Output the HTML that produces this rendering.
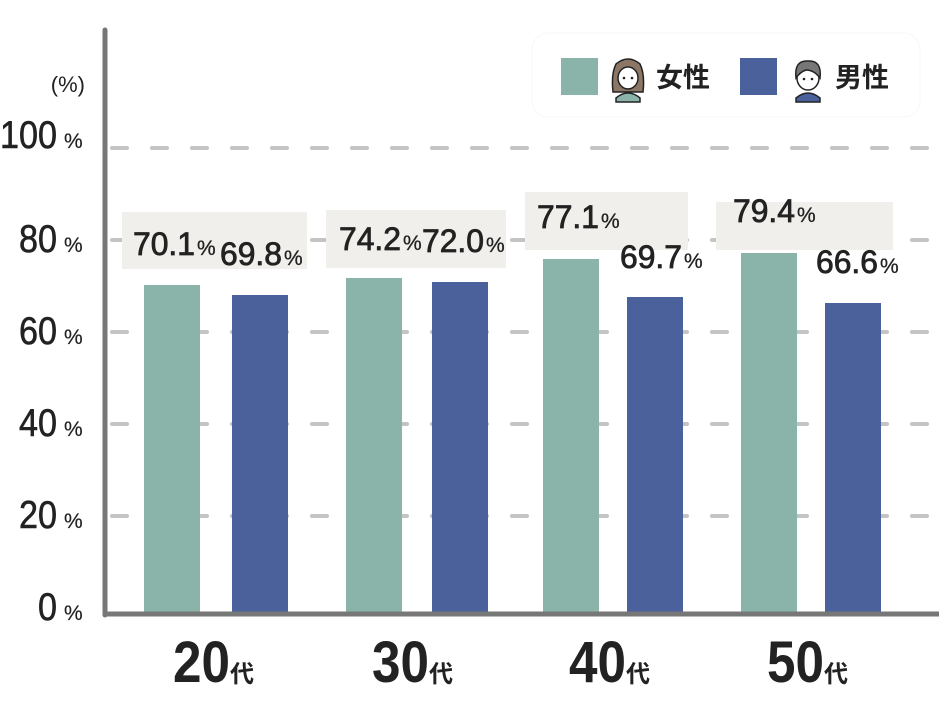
<!DOCTYPE html>
<html><head><meta charset="utf-8"><style>
body{margin:0;background:#fff}
svg{display:block}
text{font-family:"Liberation Sans","Noto Sans CJK JP",sans-serif;fill:#222}
</style></head><body>
<svg width="939" height="703" viewBox="0 0 939 703">
<g stroke="#c4c4c4" stroke-width="4" stroke-dasharray="15 25" stroke-linecap="round">
<line x1="112" y1="148" x2="939" y2="148"/>
<line x1="112" y1="240" x2="939" y2="240"/>
<line x1="112" y1="332" x2="939" y2="332"/>
<line x1="112" y1="424" x2="939" y2="424"/>
<line x1="112" y1="516" x2="939" y2="516"/>
</g>
<!-- legend -->
<rect x="532" y="33" width="388" height="84" rx="16" fill="#fff" stroke="#f7f7f7" stroke-width="1"/>
<rect x="561" y="58" width="37" height="37" fill="#8ab4aa"/>
<g transform="translate(628,76)">
<path d="M-15 16 Q-17 -2 -12 -12 Q0 -22 12 -12 Q17 -2 15 16 Z" fill="#8c7766" stroke="#222" stroke-width="1.5"/>
<path d="M-12 22 Q0 12 12 22 L12 26 L-12 26Z" fill="#8ab4aa" stroke="#222" stroke-width="1.5"/>
<ellipse cx="0" cy="2" rx="10" ry="11" fill="#fff" stroke="#222" stroke-width="1.5"/>
<circle cx="-4" cy="2" r="1.3" fill="#222"/><circle cx="4" cy="2" r="1.3" fill="#222"/>
</g>
<text x="656" y="87" font-size="27" font-weight="bold">女性</text>
<rect x="740" y="58" width="37" height="37" fill="#4a619b"/>
<g transform="translate(808,76)">
<path d="M-12 22 Q0 12 12 22 L12 26 L-12 26Z" fill="#4a619b" stroke="#222" stroke-width="1.5"/>
<ellipse cx="0" cy="2" rx="11" ry="12" fill="#fff" stroke="#222" stroke-width="1.5"/>
<path d="M-12 2 Q-14 -16 0 -15 Q14 -16 12 2 Q6 -6 -2 -6 Q-8 -4 -12 2Z" fill="#777" stroke="#222" stroke-width="1.5"/>
<circle cx="-4" cy="3" r="1.3" fill="#222"/><circle cx="4" cy="3" r="1.3" fill="#222"/>
</g>
<text x="835" y="87" font-size="27" font-weight="bold">男性</text>
<!-- label boxes -->
<rect x="122" y="212" width="185" height="57" fill="#f1efeb"/>
<rect x="326" y="210" width="180" height="58" fill="#f1efeb"/>
<rect x="525" y="192" width="163" height="58" fill="#f1efeb"/>
<rect x="716" y="202" width="177" height="48" fill="#f1efeb"/>
<!-- bars -->
<g fill="#8ab4aa">
<rect x="144" y="285" width="56" height="328"/>
<rect x="346" y="278" width="56" height="335"/>
<rect x="543" y="259" width="56" height="354"/>
<rect x="741" y="253" width="56" height="360"/>
</g>
<g fill="#4a619b">
<rect x="232" y="295" width="56" height="318"/>
<rect x="432" y="282" width="56" height="331"/>
<rect x="627" y="297" width="56" height="316"/>
<rect x="825" y="303" width="56" height="310"/>
</g>
<!-- value labels -->
<g font-size="32" stroke="#222" stroke-width="0.8">
<text x="133" y="255"><tspan textLength="62" lengthAdjust="spacingAndGlyphs">70.1</tspan><tspan font-size="21" stroke-width="0.3" dx="2">%</tspan></text>
<text x="220" y="265"><tspan textLength="62" lengthAdjust="spacingAndGlyphs">69.8</tspan><tspan font-size="21" stroke-width="0.3" dx="2">%</tspan></text>
<text x="339" y="250"><tspan textLength="62" lengthAdjust="spacingAndGlyphs">74.2</tspan><tspan font-size="21" stroke-width="0.3" dx="2">%</tspan></text>
<text x="422" y="252"><tspan textLength="62" lengthAdjust="spacingAndGlyphs">72.0</tspan><tspan font-size="21" stroke-width="0.3" dx="2">%</tspan></text>
<text x="537" y="228"><tspan textLength="62" lengthAdjust="spacingAndGlyphs">77.1</tspan><tspan font-size="21" stroke-width="0.3" dx="2">%</tspan></text>
<text x="620" y="268"><tspan textLength="62" lengthAdjust="spacingAndGlyphs">69.7</tspan><tspan font-size="21" stroke-width="0.3" dx="2">%</tspan></text>
<text x="733" y="222"><tspan textLength="62" lengthAdjust="spacingAndGlyphs">79.4</tspan><tspan font-size="21" stroke-width="0.3" dx="2">%</tspan></text>
<text x="816" y="273"><tspan textLength="62" lengthAdjust="spacingAndGlyphs">66.6</tspan><tspan font-size="21" stroke-width="0.3" dx="2">%</tspan></text>
</g>
<!-- axes -->
<line x1="105" y1="30" x2="105" y2="615" stroke="#777" stroke-width="5" stroke-linecap="round"/>
<line x1="105" y1="614" x2="939" y2="614" stroke="#777" stroke-width="5" stroke-linecap="round"/>
<!-- y labels -->
<text x="85" y="92" font-size="22" text-anchor="end">(%)</text>
<g font-size="39" stroke="#222" stroke-width="0.6">
<text x="0" y="148"><tspan textLength="57" lengthAdjust="spacingAndGlyphs">100</tspan><tspan font-size="21" stroke-width="0.2" dx="7">%</tspan></text>
<text x="19" y="252"><tspan textLength="38" lengthAdjust="spacingAndGlyphs">80</tspan><tspan font-size="21" stroke-width="0.2" dx="7">%</tspan></text>
<text x="19" y="344"><tspan textLength="38" lengthAdjust="spacingAndGlyphs">60</tspan><tspan font-size="21" stroke-width="0.2" dx="7">%</tspan></text>
<text x="19" y="436"><tspan textLength="38" lengthAdjust="spacingAndGlyphs">40</tspan><tspan font-size="21" stroke-width="0.2" dx="7">%</tspan></text>
<text x="19" y="528"><tspan textLength="38" lengthAdjust="spacingAndGlyphs">20</tspan><tspan font-size="21" stroke-width="0.2" dx="7">%</tspan></text>
<text x="38" y="620"><tspan textLength="19" lengthAdjust="spacingAndGlyphs">0</tspan><tspan font-size="21" stroke-width="0.2" dx="7">%</tspan></text>
</g>
<!-- x labels -->
<g font-size="58" font-weight="bold">
<text x="173" y="682"><tspan textLength="57" lengthAdjust="spacingAndGlyphs">20</tspan><tspan font-size="24">代</tspan></text>
<text x="372" y="682"><tspan textLength="57" lengthAdjust="spacingAndGlyphs">30</tspan><tspan font-size="24">代</tspan></text>
<text x="569" y="682"><tspan textLength="57" lengthAdjust="spacingAndGlyphs">40</tspan><tspan font-size="24">代</tspan></text>
<text x="767" y="682"><tspan textLength="57" lengthAdjust="spacingAndGlyphs">50</tspan><tspan font-size="24">代</tspan></text>
</g>
</svg>
</body></html>
